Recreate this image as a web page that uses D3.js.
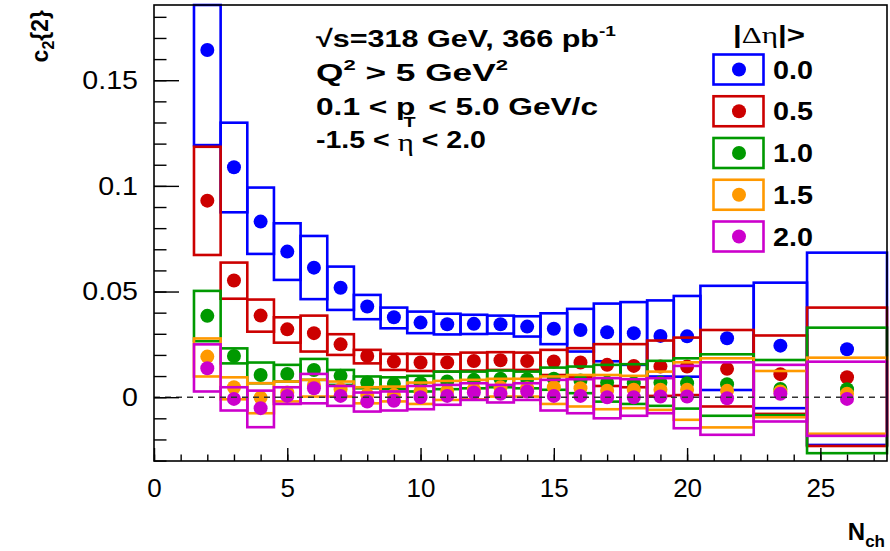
<!DOCTYPE html>
<html>
<head>
<meta charset="utf-8">
<script src="https://cdn.jsdelivr.net/npm/d3@7"></script>
<style>
  html, body { margin: 0; padding: 0; background: #fff; }
  svg { display: block; font-family: "Liberation Sans", Arial, Helvetica, sans-serif; }
</style>
</head>
<body>
<svg id="chart" width="890" height="551"></svg>
<script>
// Multiplicity bins (N_ch): centres and edges
const binCenter = [2, 3, 4, 5, 6, 7, 8, 9, 10, 11, 12, 13, 14, 15, 16, 17, 18, 19, 20, 21.5, 23.5, 26];
const binLow    = [1.5, 2.5, 3.5, 4.5, 5.5, 6.5, 7.5, 8.5, 9.5, 10.5, 11.5, 12.5, 13.5, 14.5, 15.5, 16.5, 17.5, 18.5, 19.5, 20.5, 22.5, 24.5];
const binHigh   = [2.5, 3.5, 4.5, 5.5, 6.5, 7.5, 8.5, 9.5, 10.5, 11.5, 12.5, 13.5, 14.5, 15.5, 16.5, 17.5, 18.5, 19.5, 20.5, 22.5, 24.5, 27.5];

// c2{2} for each |Δη| gap: central values and systematic band edges
const gapLabels = ["0.0", "0.5", "1.0", "1.5", "2.0"];

const c2_gap00 = [0.1643, 0.1088, 0.0831, 0.0689, 0.0613, 0.0518, 0.0429, 0.0378, 0.0353, 0.0345, 0.0347, 0.0345, 0.0334, 0.0324, 0.0318, 0.0307, 0.0303, 0.0290, 0.0288, 0.0279, 0.0244, 0.0227];
const hi_gap00 = [0.2000, 0.1299, 0.0992, 0.0823, 0.0763, 0.0618, 0.0484, 0.0424, 0.0405, 0.0395, 0.0390, 0.0386, 0.0383, 0.0397, 0.0418, 0.0443, 0.0450, 0.0458, 0.0479, 0.0527, 0.0542, 0.0684];
const lo_gap00 = [0.1193, 0.0875, 0.0678, 0.0555, 0.0464, 0.0413, 0.0369, 0.0326, 0.0303, 0.0297, 0.0299, 0.0301, 0.0287, 0.0251, 0.0216, 0.0170, 0.0153, 0.0098, 0.0097, 0.0034, -0.0052, -0.0226];

const c2_gap05 = [0.0930, 0.0552, 0.0386, 0.0321, 0.0303, 0.0250, 0.0195, 0.0169, 0.0164, 0.0164, 0.0171, 0.0175, 0.0171, 0.0169, 0.0164, 0.0153, 0.0148, 0.0145, 0.0145, 0.0134, 0.0109, 0.0094];
const hi_gap05 = [0.1185, 0.0637, 0.0462, 0.0378, 0.0386, 0.0298, 0.0224, 0.0205, 0.0205, 0.0203, 0.0211, 0.0213, 0.0211, 0.0224, 0.0232, 0.0251, 0.0251, 0.0268, 0.0282, 0.0318, 0.0292, 0.0424];
const lo_gap05 = [0.0673, 0.0466, 0.0310, 0.0258, 0.0216, 0.0200, 0.0160, 0.0129, 0.0124, 0.0121, 0.0126, 0.0129, 0.0129, 0.0105, 0.0094, 0.0053, 0.0047, 0.0006, 0.0010, -0.0044, -0.0079, -0.0231];

const c2_gap10 = [0.0385, 0.0195, 0.0105, 0.0110, 0.0129, 0.0101, 0.0069, 0.0063, 0.0066, 0.0074, 0.0082, 0.0087, 0.0085, 0.0087, 0.0079, 0.0069, 0.0066, 0.0069, 0.0066, 0.0061, 0.0039, 0.0038];
const hi_gap10 = [0.0503, 0.0231, 0.0164, 0.0153, 0.0181, 0.0129, 0.0098, 0.0094, 0.0101, 0.0121, 0.0121, 0.0126, 0.0121, 0.0140, 0.0145, 0.0153, 0.0156, 0.0172, 0.0184, 0.0203, 0.0176, 0.0329];
const lo_gap10 = [0.0265, 0.0160, 0.0066, 0.0074, 0.0082, 0.0058, 0.0042, 0.0038, 0.0027, 0.0038, 0.0042, 0.0047, 0.0042, 0.0035, 0.0019, -0.0021, -0.0032, -0.0041, -0.0054, -0.0088, -0.0085, -0.0265];

const c2_gap15 = [0.0192, 0.0047, -0.0002, 0.0022, 0.0058, 0.0038, 0.0011, 0.0011, 0.0027, 0.0030, 0.0038, 0.0047, 0.0042, 0.0047, 0.0042, 0.0031, 0.0035, 0.0035, 0.0035, 0.0030, 0.0027, 0.0016];
const hi_gap15 = [0.0278, 0.0094, 0.0066, 0.0074, 0.0082, 0.0074, 0.0047, 0.0050, 0.0069, 0.0077, 0.0082, 0.0087, 0.0087, 0.0098, 0.0105, 0.0105, 0.0101, 0.0121, 0.0165, 0.0184, 0.0124, 0.0187];
const lo_gap15 = [0.0098, -0.0010, -0.0076, -0.0020, 0.0003, 0.0003, -0.0029, -0.0020, -0.0032, -0.0013, -0.0010, 0.0003, 0.0003, -0.0032, -0.0044, -0.0057, -0.0052, -0.0060, -0.0107, -0.0143, -0.0095, -0.0173];

const c2_gap20 = [0.0137, -0.0008, -0.0052, 0.0006, 0.0042, 0.0006, -0.0021, -0.0017, 0.0000, 0.0006, 0.0022, 0.0016, 0.0027, 0.0006, 0.0006, 0.0000, 0.0000, 0.0003, 0.0003, -0.0005, 0.0016, -0.0008];
const hi_gap20 = [0.0250, 0.0047, 0.0031, 0.0047, 0.0110, 0.0053, 0.0022, 0.0027, 0.0053, 0.0058, 0.0066, 0.0058, 0.0066, 0.0082, 0.0085, 0.0090, 0.0085, 0.0090, 0.0148, 0.0165, 0.0153, 0.0168];
const lo_gap20 = [0.0027, -0.0063, -0.0142, -0.0032, -0.0029, -0.0041, -0.0068, -0.0063, -0.0057, -0.0036, -0.0013, -0.0025, -0.0013, -0.0063, -0.0076, -0.0100, -0.0088, -0.0076, -0.0147, -0.0178, -0.0115, -0.0183];

const seriesColors = ["#0000ff", "#cc0000", "#009900", "#ff9900", "#cc00cc"];

// Axis ticks
const xMajorTicks = [0, 5, 10, 15, 20, 25];
const yMajorTicks = [0, 0.05, 0.1, 0.15];

const series = [
  { label: gapLabels[0], value: c2_gap00, hi: hi_gap00, lo: lo_gap00, color: seriesColors[0] },
  { label: gapLabels[1], value: c2_gap05, hi: hi_gap05, lo: lo_gap05, color: seriesColors[1] },
  { label: gapLabels[2], value: c2_gap10, hi: hi_gap10, lo: lo_gap10, color: seriesColors[2] },
  { label: gapLabels[3], value: c2_gap15, hi: hi_gap15, lo: lo_gap15, color: seriesColors[3] },
  { label: gapLabels[4], value: c2_gap20, hi: hi_gap20, lo: lo_gap20, color: seriesColors[4] }
];

const svg = d3.select("#chart");
const frame = { left: 154, right: 887, top: 5, bottom: 461 };
const xDomain = [0, 27.5], yDomain = [-0.0302, 0.1856];

const x = d3.scaleLinear().domain(xDomain).range([frame.left, frame.right]);
const y = d3.scaleLinear().domain(yDomain).range([frame.bottom, frame.top]).clamp(true);

// Widen a text element horizontally (the labels use a broad bold face)
function widen(sel, factor) {
  sel.each(function () {
    const w = this.getComputedTextLength();
    this.setAttribute("textLength", (w * factor).toFixed(1));
    this.setAttribute("lengthAdjust", "spacingAndGlyphs");
  });
}
function fitWidth(sel, width) {
  sel.attr("textLength", width).attr("lengthAdjust", "spacingAndGlyphs");
}

// Systematic boxes and points, one layer per gap
const plot = svg.append("g");
series.forEach(s => {
  const g = plot.append("g");
  const rows = binCenter.map((c, i) => ({ c, l: binLow[i], h: binHigh[i], v: s.value[i], hi: s.hi[i], lo: s.lo[i] }));
  g.selectAll("rect").data(rows).join("rect")
    .attr("x", d => x(d.l))
    .attr("width", d => x(d.h) - x(d.l))
    .attr("y", d => y(d.hi))
    .attr("height", d => y(d.lo) - y(d.hi))
    .attr("fill", "none")
    .attr("stroke", s.color)
    .attr("stroke-width", 2.6);
  g.selectAll("circle").data(rows).join("circle")
    .attr("cx", d => x(d.c))
    .attr("cy", d => y(d.v))
    .attr("r", 7)
    .attr("fill", s.color);
});

// Zero reference line
svg.append("line")
  .attr("x1", x(xDomain[0])).attr("x2", x(xDomain[1]))
  .attr("y1", y(0)).attr("y2", y(0))
  .attr("stroke", "#333").attr("stroke-width", 1.5)
  .attr("stroke-dasharray", "6,5");

// Frame
svg.append("rect")
  .attr("x", frame.left).attr("y", frame.top)
  .attr("width", frame.right - frame.left).attr("height", frame.bottom - frame.top)
  .attr("fill", "none").attr("stroke", "#000").attr("stroke-width", 1.6);

// Axes: ticks point inwards
const tickFont = g => g.selectAll("text")
  .attr("font-family", "'Liberation Sans', Arial, sans-serif")
  .attr("font-size", 26).attr("fill", "#000");

const yMinor = d3.range(-0.03, 0.1856, 0.01).map(v => +v.toFixed(3));
svg.append("g").attr("transform", `translate(${frame.left},0)`)
  .call(d3.axisLeft(y).tickValues(yMinor).tickSizeInner(-12.5).tickSizeOuter(0).tickFormat(""))
  .call(g => g.select(".domain").remove())
  .call(g => g.selectAll("line").attr("stroke", "#000").attr("stroke-width", 1.4));
svg.append("g").attr("transform", `translate(${frame.left},0)`)
  .call(d3.axisLeft(y).tickValues(yMajorTicks).tickSizeInner(-25).tickSizeOuter(0).tickPadding(16)
    .tickFormat(d => d === 0 ? "0" : String(d)))
  .call(g => g.select(".domain").remove())
  .call(g => g.selectAll("line").attr("stroke", "#000").attr("stroke-width", 1.4))
  .call(tickFont)
  .call(g => widen(g.selectAll("text"), 1.1));

const xMinor = d3.range(0, 28, 1);
svg.append("g").attr("transform", `translate(0,${frame.bottom})`)
  .call(d3.axisBottom(x).tickValues(xMinor).tickSizeInner(-6.5).tickSizeOuter(0).tickFormat(""))
  .call(g => g.select(".domain").remove())
  .call(g => g.selectAll("line").attr("stroke", "#000").attr("stroke-width", 1.4));
svg.append("g").attr("transform", `translate(0,${frame.bottom})`)
  .call(d3.axisBottom(x).tickValues(xMajorTicks).tickSizeInner(-13).tickSizeOuter(0).tickPadding(18))
  .call(g => g.select(".domain").remove())
  .call(g => g.selectAll("line").attr("stroke", "#000").attr("stroke-width", 1.4))
  .call(tickFont);

// Axis titles
const yTitle = svg.append("text")
  .attr("transform", "translate(48,10) rotate(-90)")
  .attr("text-anchor", "end")
  .attr("font-size", 23).attr("font-weight", "bold");
yTitle.append("tspan").text("c");
yTitle.append("tspan").attr("font-size", 16).attr("dy", 6).text("2");
yTitle.append("tspan").attr("dy", -6).text("{2}");

const xTitle = svg.append("text")
  .attr("x", 885).attr("y", 540)
  .attr("text-anchor", "end")
  .attr("font-size", 24).attr("font-weight", "bold");
xTitle.append("tspan").text("N");
xTitle.append("tspan").attr("font-size", 17).attr("dy", 7).text("ch");

// Selection text
const info = svg.append("g").attr("font-size", 24).attr("font-weight", "bold");
const l1 = info.append("text").attr("x", 316).attr("y", 47);
l1.append("tspan").text("√s=318 GeV, 366 pb");
l1.append("tspan").attr("font-size", 15).attr("dy", -11).text("-1");
fitWidth(l1, 300);

const l2 = info.append("text").attr("x", 316).attr("y", 81);
l2.append("tspan").text("Q");
l2.append("tspan").attr("font-size", 15).attr("dy", -11).text("2");
l2.append("tspan").attr("dy", 11).text(" > 5 GeV");
l2.append("tspan").attr("font-size", 15).attr("dy", -11).text("2");
fitWidth(l2, 192);

const l3 = info.append("text").attr("x", 316).attr("y", 115);
l3.append("tspan").text("0.1 < p");
l3.append("tspan").attr("font-size", 15).attr("dy", 12).attr("dx", -9).text("T");
l3.append("tspan").attr("dy", -12).attr("dx", 3).text(" < 5.0 GeV/c");
fitWidth(l3, 282);

const l4 = info.append("text").attr("x", 316).attr("y", 148);
l4.append("tspan").text("-1.5 < ");
l4.append("tspan").attr("font-family", "'Liberation Serif', serif").attr("font-weight", "normal")
  .attr("font-size", 26).attr("dy", 3).text("η");
l4.append("tspan").attr("dy", -3).text(" < 2.0");
fitWidth(l4, 170);

// Legend
const legend = svg.append("g");
const head = legend.append("text").attr("x", 733).attr("y", 43)
  .attr("font-size", 23).attr("font-weight", "bold");
head.append("tspan").text("|");
head.append("tspan").attr("font-family", "'Liberation Serif', serif").attr("font-weight", "normal").text("Δη");
head.append("tspan").text("|>");
fitWidth(head, 72);

const rowY = d3.scalePoint().domain(gapLabels).range([69.5, 236.5]);
const entries = legend.selectAll("g.entry").data(series).join("g").attr("class", "entry")
  .attr("transform", d => `translate(0,${rowY(d.label)})`);
entries.append("rect")
  .attr("x", 713.5).attr("y", -15).attr("width", 50).attr("height", 30)
  .attr("fill", "none").attr("stroke", d => d.color).attr("stroke-width", 2.6);
entries.append("circle").attr("cx", 739).attr("cy", 0).attr("r", 7).attr("fill", d => d.color);
entries.append("text").attr("x", 773).attr("y", 9)
  .attr("font-size", 25).attr("font-weight", "bold").text(d => d.label)
  .call(t => fitWidth(t, 40));
</script>
</body>
</html>
